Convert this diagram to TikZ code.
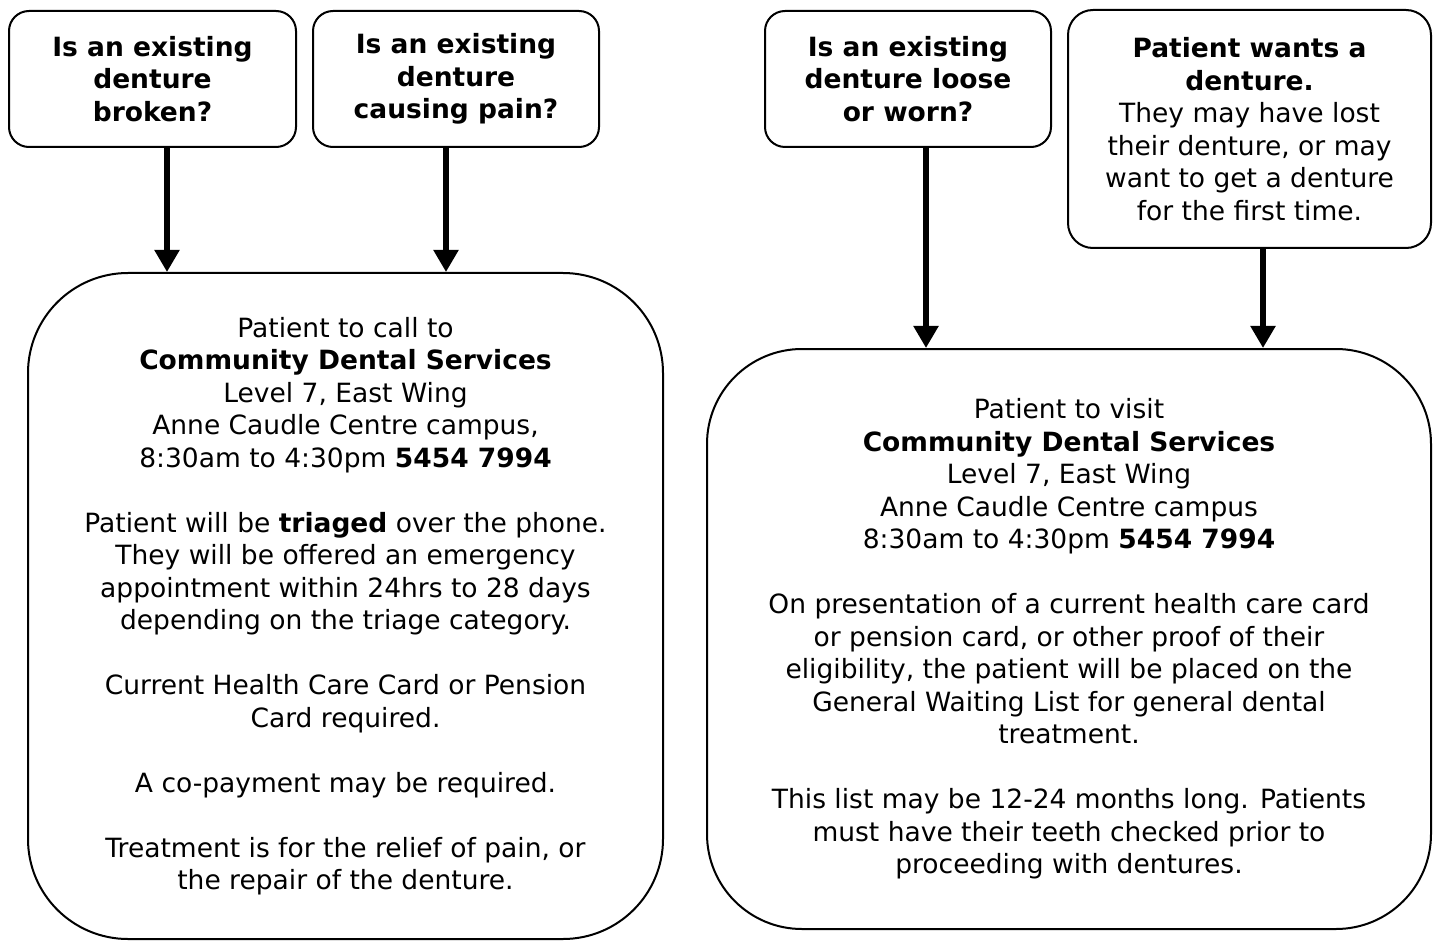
\documentclass[tikz,border=0pt]{standalone}
\usepackage{fontspec}
\setmainfont{DejaVu Sans}
\usetikzlibrary{arrows.meta}
\tikzset{
  box/.style={draw=black, line width=1pt, align=center, inner sep=0pt,
    font=\fontsize{13.25}{16.25}\selectfont},
  arr/.style={line width=2.6pt, -{Triangle[width=12pt,length=11pt]}},
}
\begin{document}
\begin{tikzpicture}[x=0.5pt,y=-0.5pt]
\useasboundingbox (0,0) rectangle (1435,941);
% top question boxes
\node[box, rounded corners=10pt, minimum width=143.5pt, minimum height=68pt] (A) at (152.5,79)
  {\textbf{Is an existing}\\\textbf{denture}\\\textbf{broken?}};
\node[box, rounded corners=10pt, minimum width=143pt, minimum height=68pt] (B) at (456,79)
  {\textbf{Is an existing}\\\textbf{denture}\\\textbf{causing pain?}};
\node[box, rounded corners=10pt, minimum width=143pt, minimum height=68pt] (C) at (908,79)
  {\textbf{Is an existing}\\\textbf{denture loose}\\\textbf{or worn?}};
\node[box, rounded corners=12.5pt, minimum width=181.5pt, minimum height=119pt] (D) at (1249.5,129)
  {\textbf{Patient wants a}\\\textbf{denture.}\\They may have lost\\their denture, or may\\want to get a denture\\for the first time.};
% big boxes
\node[box, rounded corners=50pt, minimum width=317.5pt, minimum height=333pt] (L) at (345.5,606)
  {Patient to call to\\
   \textbf{Community Dental Services}\\
   Level 7, East Wing\\
   Anne Caudle Centre campus,\\
   8:30am to 4:30pm \textbf{5454 7994}\\[16.25pt]
   Patient will be \textbf{triaged} over the phone.\\
   They will be offered an emergency\\
   appointment within 24hrs to 28 days\\
   depending on the triage category.\\[16.25pt]
   Current Health Care Card or Pension\\
   Card required.\\[16.25pt]
   A co-payment may be required.\\[16.25pt]
   Treatment is for the relief of pain, or\\
   the repair of the denture.};
\node[box, rounded corners=47.5pt, minimum width=362pt, minimum height=290pt] (R) at (1069,639)
  {Patient to visit\\
   \textbf{Community Dental Services}\\
   Level 7, East Wing\\
   Anne Caudle Centre campus\\
   8:30am to 4:30pm \textbf{5454 7994}\\[16.25pt]
   On presentation of a current health care card\\
   or pension card, or other proof of their\\
   eligibility, the patient will be placed on the\\
   General Waiting List for general dental\\
   treatment.\\[16.25pt]
   This list may be 12-24 months long. Patients\\
   must have their teeth checked prior to\\
   proceeding with dentures.};
% arrow x positions
\coordinate (xa) at (167,0);
\coordinate (xb) at (446,0);
\coordinate (xc) at (926,0);
\coordinate (xd) at (1263,0);
\draw[arr] (A.south -| xa) -- (L.north -| xa);
\draw[arr] (B.south -| xb) -- (L.north -| xb);
\draw[arr] (C.south -| xc) -- (R.north -| xc);
\draw[arr] (D.south -| xd) -- (R.north -| xd);
\end{tikzpicture}
\end{document}
